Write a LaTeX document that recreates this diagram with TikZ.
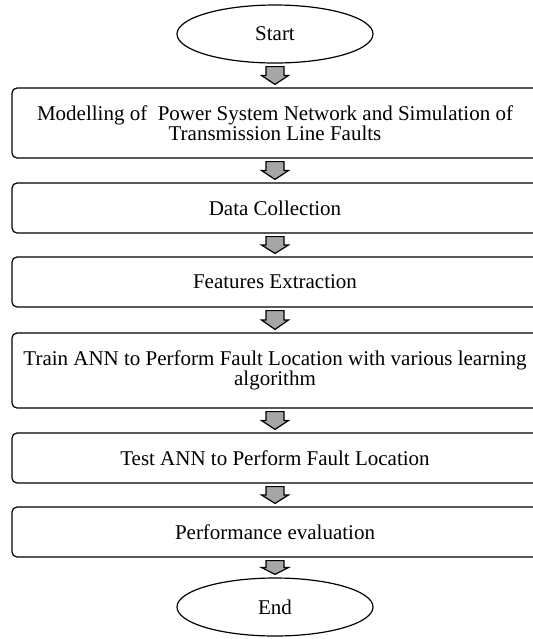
\documentclass[tikz,border=0pt]{standalone}
\usepackage{fontspec}
\setmainfont{Liberation Serif}
\usetikzlibrary{shapes.geometric,calc}
\definecolor{arrowgray}{RGB}{166,166,166}
\newcommand{\flowarrow}[2]{%
  \path ($(#1.south)!0.5!(#2.north)$) coordinate (mid);
  \draw[fatarrow] ($(#1.south)+(-9,-3)$) -- ($(#1.south)+(9,-3)$)
    -- ($(mid)+(9,0)$) -- ($(mid)+(13.5,0)$) -- ($(#2.north)+(0,3)$)
    -- ($(mid)+(-13.5,0)$) -- ($(mid)+(-9,0)$) -- cycle;}
\begin{document}
\begin{tikzpicture}[x=0.5pt, y=0.5pt,
    every node/.style={font=\fontsize{10.5}{10}\selectfont},
    terminal/.style={ellipse, draw, line width=0.6pt, inner sep=0pt,
      minimum width=98pt, minimum height=29pt},
    process/.style={rectangle, rounded corners=2.5pt, draw, line width=0.6pt,
      align=center, minimum width=263pt},
    fatarrow/.style={draw, fill=arrowgray, line width=0.6pt, line join=miter}]
    \useasboundingbox (0,0) rectangle (532,-639);
    % terminals
    \node[terminal] (start) at (275,-34) {Start};
    \node[terminal] (end) at (275,-607) {End};
    % steps
    \node[process, minimum height=35pt] (model) at (275,-123)
      {Modelling of \ Power System Network and Simulation of\\Transmission Line Faults};
    \node[process, minimum height=25pt] (data) at (275,-208) {Data Collection};
    \node[process, minimum height=25pt] (feat) at (275,-282) {Features Extraction};
    \node[process, minimum height=37.5pt] (train) at (275,-370.5)
      {Train ANN to Perform Fault Location with various learning\\algorithm};
    \node[process, minimum height=25pt] (test) at (275,-458) {Test ANN to Perform Fault Location};
    \node[process, minimum height=25pt] (perf) at (275,-532) {Performance evaluation};
    % block arrows
    \flowarrow{start}{model}
    \flowarrow{model}{data}
    \flowarrow{data}{feat}
    \flowarrow{feat}{train}
    \flowarrow{train}{test}
    \flowarrow{test}{perf}
    \flowarrow{perf}{end}
\end{tikzpicture}
\end{document}
